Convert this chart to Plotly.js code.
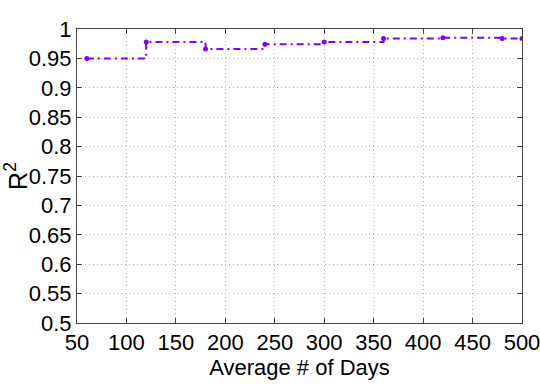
<!DOCTYPE html>
<html>
<head>
<meta charset="utf-8">
<script src="https://cdn.plot.ly/plotly-3.0.1.min.js"></script>
<style>
  body { margin: 0; background: #fff; }
  #chart { width: 540px; height: 392px; }
</style>
</head>
<body>
<div id="chart"></div>
<script>
var days = [60, 120, 180, 240, 300, 360, 420, 480, 500];
var r2 = [0.950, 0.978, 0.966, 0.974, 0.978, 0.984, 0.985, 0.984, 0.984];

var CHART = document.getElementById("chart");

var data = [
    {
        x: days,
        y: r2,
        mode: 'lines+markers',
        type: 'scatter',
        line: { shape: 'hv', dash: '7px,4px,2px,4px', color: '#7f00ff', width: 2 },
        marker: { color: '#7f00ff', size: 5 },
    },
];

var axisFont = { family: 'Liberation Sans, Arial, sans-serif', size: 22, color: '#000' };

var layout = {
    width: 540,
    height: 392,
    margin: { l: 77, r: 18, t: 29, b: 69 },
    paper_bgcolor: '#fff',
    plot_bgcolor: '#fff',
    showlegend: false,
    font: axisFont,
    xaxis: {
        title: { text: 'Average # of Days', font: axisFont, standoff: 0 },
        range: [50, 500],
        dtick: 50,
        tick0: 50,
        ticks: 'inside',
        ticklen: 5,
        tickcolor: '#444',
        showline: true,
        linecolor: '#444',
        mirror: 'ticks',
        showgrid: true,
        gridcolor: '#b4b4b4',
        griddash: '1px,3px',
        zeroline: false,
        tickfont: axisFont,
        ticklabeloverflow: 'allow',
        automargin: false,
    },
    yaxis: {
        title: { text: 'R<sup>2</sup>', font: { family: 'Liberation Sans, Arial, sans-serif', size: 25, color: '#000' }, standoff: 0 },
        range: [0.5, 1],
        dtick: 0.05,
        tick0: 0.5,
        ticks: 'inside',
        ticklen: 5,
        tickcolor: '#444',
        showline: true,
        linecolor: '#444',
        mirror: 'ticks',
        showgrid: true,
        gridcolor: '#b4b4b4',
        griddash: '1px,3px',
        zeroline: false,
        tickfont: axisFont,
        ticklabeloverflow: 'allow',
        automargin: false,
    },
};

var config = { responsive: false, displayModeBar: false };
Plotly.newPlot(CHART, data, layout, config);
</script>
</body>
</html>
